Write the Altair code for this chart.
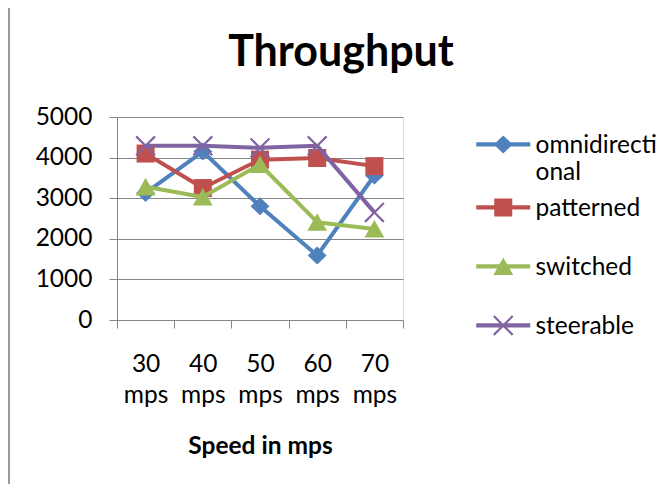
import math
import altair as alt
import pandas as pd

# ---------------- data ----------------
categories = ["30 mps", "40 mps", "50 mps", "60 mps", "70 mps"]
series_names = ["omnidirectional", "patterned", "switched", "steerable"]
omnidirectional = [3130, 4150, 2800, 1590, 3560]
patterned = [4100, 3250, 3950, 3990, 3790]
switched = [3280, 3030, 3830, 2410, 2240]
steerable = [4290, 4290, 4240, 4290, 2650]
y_ticks = [0, 1000, 2000, 3000, 4000, 5000]
colors = ["#4F81BD", "#C0504D", "#9BBB59", "#8064A2"]

rows = []
for name, vals in zip(series_names, [omnidirectional, patterned, switched, steerable]):
    for c, v in zip(categories, vals):
        rows.append({"speed": c, "throughput": v, "series": name})
df = pd.DataFrame(rows)

FONT = "Lato"
FS = 24.5
GRAY = "#868686"

# ---------------- symbol paths (unit coords) ----------------
def poly(pts, dy=0.0):
    return "M" + "L".join(f"{x:.3f},{y + dy:.3f}" for x, y in pts) + "Z"

def x_pts(s=1.0, t=0.12):
    a = s * math.sqrt(2)
    plus = [(-t, -a), (t, -a), (t, -t), (a, -t), (a, t), (t, t), (t, a), (-t, a),
            (-t, t), (-a, t), (-a, -t), (-t, -t)]
    r2 = math.sqrt(2)
    return [((x - y) / r2, (x + y) / r2) for x, y in plus]

marker_pts = [
    [(0, -1), (1.05, 0), (0, 1), (-1.05, 0)],           # diamond
    [(-1, -1), (1, -1), (1, 1), (-1, 1)],               # square
    [(0, -1), (1.1, 0.95), (-1.1, 0.95)],               # triangle
    x_pts(1.05, 0.12),                                  # x
]
marker_paths = [poly(p) for p in marker_pts]

SHIFT = 1.13
L, T = 3.0, 0.24
ROW = 45.8 / 9
legend_paths = []
for p in marker_pts:
    line = poly([(-L, -T), (L, -T), (L, T), (-L, T)], SHIFT)
    legend_paths.append(line + poly(p, SHIFT) + f"M0,0M0,{ROW:.3f}")

# ---------------- encodings ----------------
x_axis = alt.Axis(
    title="Speed in mps", tickBand="extent", tickSize=8, tickColor=GRAY, tickWidth=1,
    domainColor=GRAY, domainWidth=1, grid=False, labelAngle=0,
    labelExpr="split(datum.label, ' ')", labelFont=FONT, labelFontSize=FS,
    labelColor="black", labelPadding=24, labelLineHeight=31, labelBaseline="top",
    titleFont=FONT, titleFontSize=FS, titleFontWeight="bold", titleColor="black",
    titlePadding=28,
)
y_axis = alt.Axis(
    title=None, values=y_ticks, format="d", grid=True, gridColor=GRAY, gridWidth=1,
    tickSize=8, tickColor=GRAY, domainColor=GRAY, labelFont=FONT,
    labelFontSize=FS, labelColor="black", labelPadding=17,
)

xenc = alt.X("speed:N", sort=categories, bandPosition=0.5,
             scale=alt.Scale(type="band", domain=categories, paddingInner=0, paddingOuter=0),
             axis=x_axis)
yenc = alt.Y("throughput:Q", scale=alt.Scale(domain=[0, 5000], nice=False), axis=y_axis)

layers = []
for i, name in enumerate(series_names):
    base = alt.Chart(df).transform_filter(alt.datum.series == name)
    layers.append(base.mark_line(strokeWidth=4, strokeJoin="round", color=colors[i]).encode(
        x=xenc, y=yenc))
    layers.append(base.mark_point(filled=True, opacity=1, size=324, shape=marker_paths[i],
                                  strokeWidth=0, color=colors[i]).encode(x=xenc, y=yenc))

legend = alt.Legend(
    title=None, orient="none", legendX=374, legendY=5, padding=0, rowPadding=0,
    labelFont=FONT, labelFontSize=FS, labelColor="black", labelBaseline="top",
    labelOffset=20, symbolSize=324, symbolStrokeWidth=0, symbolOpacity=1,
    labelLimit=220,
    labelExpr="length(datum.label) > 11 ? [substring(datum.label, 0, 11), substring(datum.label, 11)] : datum.label",
)
legend_layer = alt.Chart(df).mark_point(filled=True, opacity=0, size=324).encode(
    x=xenc, y=yenc,
    color=alt.Color("series:N", scale=alt.Scale(domain=series_names, range=colors),
                    legend=legend),
    shape=alt.Shape("series:N", scale=alt.Scale(domain=series_names, range=legend_paths),
                    legend=legend),
)

frame = alt.Chart(df).mark_rule(color="#9a9a9a", strokeWidth=2).encode(
    x=alt.value(-108), y=alt.value(-109), y2=alt.value(368))

chart = alt.layer(*layers, legend_layer, frame).properties(
    width=286, height=203,
    padding={"left": 109, "top": 109, "right": 259, "bottom": 164},
    autosize=alt.AutoSizeParams(type="none"),
    title=alt.TitleParams("Throughput", font=FONT, fontSize=43, fontWeight="bold",
                          color="black", anchor="middle", frame="group", dx=81,
                          baseline="alphabetic", offset=0, dy=102),
).configure_view(stroke=None).configure(
    background="white",
    style={"guide-label": {"lineHeight": 27}},
)

chart.save("out.html", embed_options={"renderer": "svg", "actions": False})
